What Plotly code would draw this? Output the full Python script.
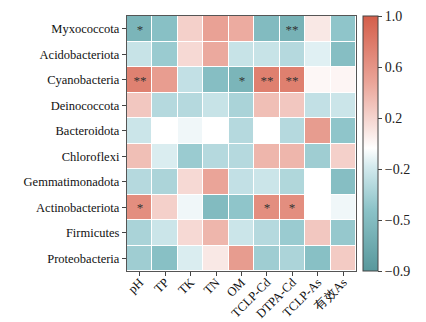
import plotly.graph_objects as go

rows = ["Myxococcota", "Acidobacteriota", "Cyanobacteria", "Deinococcota", "Bacteroidota",
        "Chloroflexi", "Gemmatimonadota", "Actinobacteriota", "Firmicutes", "Proteobacteria"]
cols = ["pH", "TP", "TK", "TN", "OM", "TCLP-Cd", "DTPA-Cd", "TCLP-As", "有效As"]

values = [
    [-0.62, -0.50, 0.25, 0.52, 0.46, -0.55, -0.65, 0.12, -0.45],
    [-0.20, -0.40, 0.20, 0.47, -0.20, -0.20, -0.28, -0.10, -0.52],
    [0.75, 0.55, -0.22, -0.52, -0.62, 0.76, 0.76, 0.04, 0.05],
    [0.30, -0.28, -0.28, -0.20, -0.33, 0.35, 0.30, -0.22, -0.18],
    [-0.18, 0.00, -0.05, 0.00, -0.28, 0.00, -0.28, 0.56, -0.45],
    [0.35, -0.12, -0.40, -0.28, -0.28, 0.40, 0.40, -0.38, 0.25],
    [-0.28, -0.32, 0.20, 0.50, -0.22, -0.18, -0.30, 0.00, -0.52],
    [0.66, 0.25, -0.05, -0.55, -0.45, 0.66, 0.66, 0.00, -0.05],
    [-0.33, -0.18, 0.20, 0.40, -0.18, -0.28, -0.40, 0.30, -0.42],
    [-0.38, -0.50, -0.12, 0.12, 0.56, -0.38, -0.32, -0.50, 0.28],
]

stars = [
    ["*", "", "", "", "", "", "**", "", ""],
    ["", "", "", "", "", "", "", "", ""],
    ["**", "", "", "", "*", "**", "**", "", ""],
    ["", "", "", "", "", "", "", "", ""],
    ["", "", "", "", "", "", "", "", ""],
    ["", "", "", "", "", "", "", "", ""],
    ["", "", "", "", "", "", "", "", ""],
    ["*", "", "", "", "", "*", "*", "", ""],
    ["", "", "", "", "", "", "", "", ""],
    ["", "", "", "", "", "", "", "", ""],
]

cbar_vals = [1.0, 0.614, 0.228, -0.158, -0.544, -0.93]
cbar_text = ["1.0", "0.6", "0.2", "\u22120.2", "\u22120.5", "\u22120.9"]

zmin, zmax = -0.93, 1.0
z0 = (0 - zmin) / (zmax - zmin)

colorscale = [
    [0.0, "rgb(88,152,156)"],
    [z0 * 0.5, "rgb(140,195,200)"],
    [z0 * 0.85, "rgb(212,234,238)"],
    [z0, "rgb(255,255,255)"],
    [z0 + (1 - z0) * 0.15, "rgb(248,226,222)"],
    [z0 + (1 - z0) * 0.5, "rgb(234,164,152)"],
    [1.0, "rgb(212,94,74)"],
]

fig = go.Figure(go.Heatmap(
    z=values, x=cols, y=rows, zmin=zmin, zmax=zmax,
    colorscale=colorscale, xgap=1, ygap=1,
    text=stars, texttemplate="%{text}",
    textfont=dict(family="Liberation Serif", size=13, color="#333"),
    hoverinfo="skip",
    colorbar=dict(
        x=1.031, xanchor="left", xpad=0, y=0.5, yanchor="middle",
        len=1.0, lenmode="fraction", ypad=0, thickness=15, thicknessmode="pixels",
        outlinewidth=1, outlinecolor="#444",
        tickvals=cbar_vals, ticktext=cbar_text, ticks="outside", ticklen=4,
        tickcolor="#444",
        tickfont=dict(family="Liberation Serif", size=14, color="#222"),
    ),
))

fig.update_layout(
    width=426, height=322,
    margin=dict(l=127, r=70, t=16, b=51),
    paper_bgcolor="white", plot_bgcolor="white",
    font=dict(family="Liberation Serif", size=12, color="#111"),
)
fig.update_xaxes(
    tickangle=-45, ticks="outside", ticklen=4, tickcolor="#444", automargin=False,
    ticklabelstandoff=-6,
    showline=True, linecolor="#555", linewidth=1.2, mirror=True,
    tickfont=dict(family="Liberation Serif", size=12.5, color="#111"),
)
fig.update_yaxes(
    autorange="reversed", ticks="outside", ticklen=4, tickcolor="#444", automargin=False,
    showline=True, linecolor="#555", linewidth=1.2, mirror=True,
    tickfont=dict(family="Liberation Serif", size=12.5, color="#111"),
)

fig.write_html("out.html")
